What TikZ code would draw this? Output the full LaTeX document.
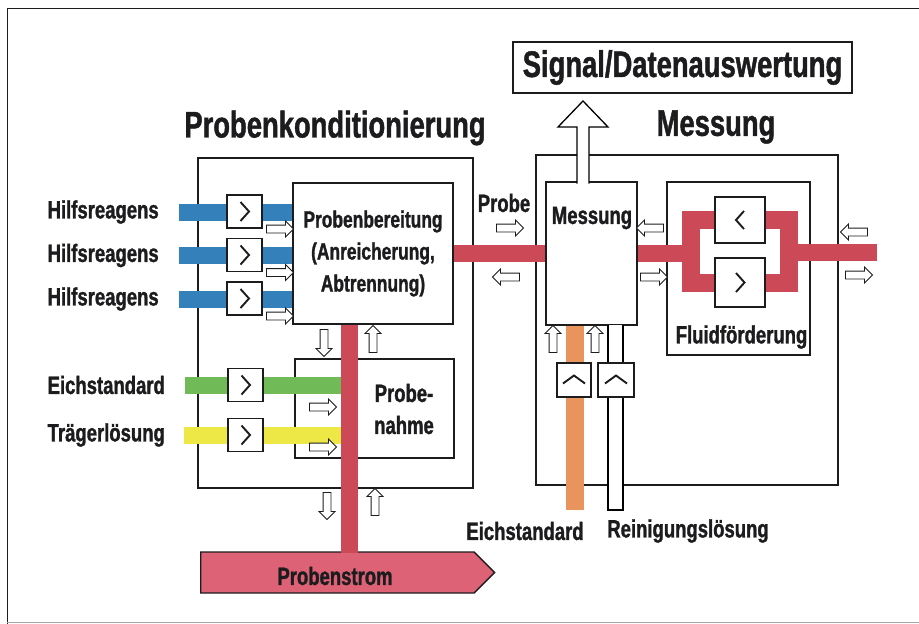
\documentclass[tikz,border=0pt]{standalone}
\usepackage{fontspec}
\setmainfont{Liberation Sans}[FakeStretch=0.74,BoldFeatures={FakeBold=1.2}]
\usetikzlibrary{shapes.arrows,shapes.symbols,calc}

\definecolor{tinte}{RGB}{28,28,30}
\definecolor{blau}{RGB}{52,128,186}
\definecolor{rot}{RGB}{204,74,88}
\definecolor{rosa}{RGB}{222,98,118}
\definecolor{gruen}{RGB}{112,186,88}
\definecolor{gelb}{RGB}{238,232,70}
\definecolor{ocker}{RGB}{232,148,92}

\begin{document}
\begin{tikzpicture}[x=1pt,y=-1pt,line width=1.3pt,
  box/.style={draw=tinte,fill=white,inner sep=0pt},
  pump/.style={draw=tinte,fill=white,line width=1.1pt,minimum width=35pt,minimum height=33pt,inner sep=0pt},
  vor/.style={pump,path picture={\draw[line width=1.9pt,tinte] ($(path picture bounding box.center)+(-4pt,9.5pt)$) -- ++(8.5pt,-9.5pt) -- ++(-8.5pt,-9.5pt);}},
  rueck/.style={pump,path picture={\draw[line width=1.9pt,tinte] ($(path picture bounding box.center)+(4pt,9pt)$) -- ++(-8pt,-9pt) -- ++(8pt,-9pt);}},
  hoch/.style={pump,path picture={\draw[line width=1.9pt,tinte] ($(path picture bounding box.center)+(-11pt,-3.5pt)$) -- ++(11pt,8pt) -- ++(11pt,-8pt);}},
  pfeil/.style={single arrow,draw=tinte,fill=white,line width=0.9pt,minimum height=27pt,inner sep=3.5pt,single arrow head extend=4pt},
  bar/.style={line width=17pt},
  lbl/.style={text=tinte,font=\bfseries\fontsize{25}{32}\selectfont,inner sep=0pt},
  titel/.style={text=tinte,font=\bfseries\fontsize{37}{40}\selectfont,inner sep=0pt}]
  \useasboundingbox (0,0) rectangle (919,624);
  \draw[line width=1pt,tinte] (925,8) -- (7,8) -- (7,624);
  \draw[line width=0.6pt,black!35] (7,622.5) -- (925,622.5);

  % Titel
  \node[titel] (t1) at (335,128) {Probenkonditionierung};
  \node[titel] (t2) at (716,127) {Messung};
  \node[box,titel,minimum width=339pt,minimum height=51pt] (sig) at (682.5,67.5) {Signal/Datenauswertung};

  % Kaesten
  \node[box,minimum width=275pt,minimum height=330pt] (kond) at (335.5,323) {};
  \node[box,minimum width=302pt,minimum height=330pt] (messo) at (687,320) {};
  \node[box,lbl,align=center,font=\bfseries\fontsize{23.5}{32}\selectfont,minimum width=160pt,minimum height=141pt] (pb) at (373,253.5) {Probenbereitung\\(Anreicherung,\\Abtrennung)};
  \node[box,minimum width=159pt,minimum height=99pt] (pn) at (374.5,408.5) {};
  \node[box,minimum width=91pt,minimum height=143pt] (mess) at (591.5,253.5) {};
  \node[box,minimum width=143pt,minimum height=173pt] (fluid) at (738.5,268.5) {};

  % Signalpfeil
  \coordinate (sh) at (583,183.5);
  \draw[fill=white] ($(sh)+(-6,0)$) -- ++(0,-56.5) -- ++(-19,0) -- ++(25,-26) -- ++(25,26) -- ++(-19,0) -- ++(0,56.5);

  % Beschriftung
  \node[lbl,anchor=west] (h1) at (47,212) {Hilfsreagens};
  \node[lbl,anchor=west] (h2) at (47,255.5) {Hilfsreagens};
  \node[lbl,anchor=west] (h3) at (47,299) {Hilfsreagens};
  \node[lbl,anchor=west] (e1) at (47,385) {Eichstandard};
  \node[lbl,anchor=west] (e2) at (47,435) {Trägerlösung};
  \node[lbl,align=center] (pntxt) at (404,409) {Probe-\\nahme};
  \node[lbl] (mtxt) at (592,218) {Messung};
  \node[lbl] (ftxt) at (741.5,337) {Fluidförderung};
  \node[lbl] (ptxt) at (504,203) {Probe};
  \node[lbl] (eich) at (525,531) {Eichstandard};
  \node[lbl] (rein) at (688,531) {Reinigungslösung};
  \node[signal,signal to=east,anchor=west,draw=tinte,fill=rosa,minimum width=294pt,minimum height=41pt,inner sep=0pt] (ps) at (200,572.5) {};
  \node[lbl] (pstxt) at (335,576) {Probenstrom};

  % Leitungen
  \coordinate (rb) at (349.5,553);
  \coordinate (lw) at (691,220);
  \coordinate (le) at (789,282.5);
  \coordinate (aus) at (877,252);
  \coordinate (ende) at (575,510);
  \coordinate (rend) at (615.5,510);
  \draw[bar,blau] ([xshift=20pt]h1.east) -- (h1 -| pb.west);
  \draw[bar,blau] ([xshift=20pt]h2.east) -- (h2 -| pb.west);
  \draw[bar,blau] ([xshift=20pt]h3.east) -- (h3 -| pb.west);
  \draw[bar,gruen] ([xshift=20pt]e1.east) -- (e1 -| rb);
  \draw[bar,gelb] ([xshift=19pt]e2.east) -- (e2 -| rb);
  \draw[bar,rot] (pb.east) -- (pb.east -| mess.west);
  \draw[bar,rot,line width=18pt] (lw) rectangle (le);
  \draw[bar,rot] (mess.east) -- (mess.east -| lw);
  \draw[bar,rot] (le |- aus) -- (aus);
  \draw[bar,ocker,line width=18pt] (ende |- mess.south) -- (ende);
  \draw[fill=white,line width=1.1pt] ($(rend |- mess.south)+(-7.5,-1)$) -- ($(rend)+(-7.5,0)$) -- ($(rend)+(7.5,0)$) -- ($(rend |- mess.south)+(7.5,-1)$);
  \draw[bar,rot] (rb |- pb.south) -- (rb);

  % Pumpen
  \node[vor] (p1) at (244.5,211.5) {};
  \node[vor] (p2) at (244.5,255) {};
  \node[vor] (p3) at (244.5,298.5) {};
  \node[vor] (q1) at (245.5,385) {};
  \node[vor] (q2) at (245.5,435) {};
  \node[rueck,minimum width=50pt,minimum height=46pt] (pl) at (740,220) {};
  \node[vor,minimum width=50pt,minimum height=49pt] (pr) at (740,282.5) {};
  \node[hoch,minimum width=34pt,minimum height=34pt] (pe) at (574,380) {};
  \node[hoch,minimum width=36pt,minimum height=34pt] (pc) at (616,380) {};

  % Flussrichtung
  \node[pfeil] (r1) at (278,229) {};
  \node[pfeil] (r2) at (278,272.5) {};
  \node[pfeil] (r3) at (278,316) {};
  \node[pfeil] (pr1) at (508,228) {};
  \node[pfeil,shape border rotate=180] (pr2) at (508,277) {};
  \node[pfeil,shape border rotate=180] (m1) at (652,228) {};
  \node[pfeil] (m2) at (652,277) {};
  \node[pfeil,shape border rotate=180] (o1) at (856,232) {};
  \node[pfeil] (o2) at (857,275) {};
  \node[pfeil,shape border rotate=270] (d1) at (324,341) {};
  \node[pfeil,shape border rotate=90] (u1) at (373,341) {};
  \node[pfeil] (n1) at (321,407) {};
  \node[pfeil] (n2) at (321,447) {};
  \node[pfeil,shape border rotate=270] (d2) at (327,504) {};
  \node[pfeil,shape border rotate=90] (u2) at (375,504) {};
  \node[pfeil,shape border rotate=90] (u3) at (553,341) {};
  \node[pfeil,shape border rotate=90] (u4) at (595,341) {};
\end{tikzpicture}
\end{document}
